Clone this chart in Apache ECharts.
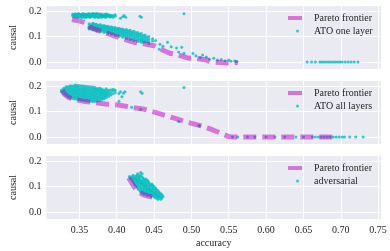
<!DOCTYPE html>
<html><head><meta charset="utf-8">
<script src="https://cdn.jsdelivr.net/npm/echarts@6/dist/echarts.min.js"></script>
<style>html,body{margin:0;padding:0;background:#fff}#c{width:390px;height:251px}</style>
</head><body><div id="c"></div>
<script>
const X_TICKS = [0.35, 0.40, 0.45, 0.50, 0.55, 0.60, 0.65, 0.70, 0.75];
const Y_TICKS = [0.0, 0.1, 0.2];
const SERIES_NAMES = ['ATO one layer', 'ATO all layers', 'adversarial'];
const FRONTIER_NAME = 'Pareto frontier';

// Pareto frontiers [accuracy, causal]
const frontierOneLayer = [[0.340,0.167],[0.350,0.161],[0.359,0.154],[0.364,0.137],[0.372,0.127],[0.382,0.118],[0.392,0.108],[0.402,0.098],[0.410,0.089],[0.424,0.077],[0.432,0.074],[0.450,0.064],[0.456,0.054],[0.471,0.035],[0.480,0.030],[0.497,0.015],[0.503,0.017],[0.520,0.008],[0.525,0.001],[0.545,-0.003],[0.562,-0.002]];
const frontierAllLayers = [[0.327,0.184],[0.330,0.168],[0.336,0.155],[0.345,0.147],[0.355,0.141],[0.370,0.135],[0.385,0.130],[0.402,0.126],[0.420,0.117],[0.437,0.109],[0.455,0.094],[0.476,0.075],[0.495,0.058],[0.512,0.045],[0.528,0.029],[0.550,0.002],[0.556,0.000],[0.692,0.000]];
const frontierAdversarial = [[0.416,0.135],[0.419,0.120],[0.422,0.105],[0.426,0.090],[0.430,0.078],[0.436,0.068],[0.443,0.062],[0.450,0.057],[0.455,0.054]];

// Scatter rows: [accuracy, causal values...]
const oneLayerRows = [
 [0.341,0.182,0.188],[0.3425,0.179,0.186],[0.344,0.178,0.184,0.190],[0.3455,0.181,0.187],[0.347,0.176,0.182,0.188],[0.3485,0.179,0.185,0.191],[0.350,0.177,0.183,0.189],
 [0.3515,0.180,0.186],[0.353,0.175,0.181,0.187],[0.3545,0.178,0.184,0.190],[0.356,0.178,0.184,0.190],[0.3575,0.175,0.181,0.187],[0.359,0.176,0.182,0.188],[0.3605,0.179,0.185],[0.362,0.179,0.185,0.191],
 [0.3635,0.176,0.182,0.188],[0.365,0.177,0.183,0.189],[0.3665,0.180,0.186],[0.368,0.180,0.186,0.192],[0.3695,0.177,0.183,0.189],[0.371,0.176,0.182,0.188],[0.3725,0.179,0.185,0.191],[0.374,0.178,0.184,0.190],
 [0.3755,0.175,0.181,0.187],[0.377,0.177,0.183,0.189],[0.3785,0.180,0.186],[0.380,0.176,0.182,0.188],[0.3815,0.179,0.185],[0.383,0.179,0.185],[0.3845,0.176,0.182,0.188],[0.386,0.177,0.183,0.189],
 [0.3875,0.180,0.186],[0.389,0.180,0.186],[0.3905,0.177,0.183],[0.392,0.178,0.184],[0.3935,0.181],[0.395,0.176,0.183],[0.398,0.180,0.186],
 [0.405,0.172],[0.408,0.178],[0.410,0.183],[0.412,0.176],[0.431,0.180],[0.433,0.176],[0.490,0.190],
 [0.363,0.150,0.143,0.136,0.130],[0.3655,0.147,0.140,0.133],[0.368,0.152,0.146,0.139,0.132,0.127],[0.3705,0.149,0.142,0.135,0.129],
 [0.373,0.148,0.142,0.135,0.128,0.122],[0.3755,0.145,0.138,0.131,0.125],[0.378,0.147,0.140,0.133,0.126,0.120],[0.3805,0.143,0.136,0.129,0.122],
 [0.383,0.144,0.137,0.130,0.123,0.116],[0.3855,0.141,0.134,0.126,0.119],[0.388,0.141,0.134,0.127,0.120,0.113],[0.3905,0.138,0.130,0.123,0.116],
 [0.393,0.139,0.132,0.125,0.117,0.109],[0.3955,0.135,0.128,0.120,0.112],[0.398,0.136,0.129,0.122,0.114,0.105],[0.4005,0.132,0.125,0.117,0.108],
 [0.403,0.133,0.126,0.118,0.110,0.101],[0.4055,0.130,0.122,0.114,0.105],[0.408,0.130,0.123,0.115,0.106,0.097],[0.4105,0.126,0.118,0.110,0.101],
 [0.413,0.128,0.120,0.112,0.103,0.093],[0.4155,0.123,0.115,0.106,0.097],[0.418,0.125,0.116,0.108,0.099,0.089],[0.4205,0.119,0.111,0.102,0.093],
 [0.423,0.121,0.113,0.104,0.095,0.085],[0.4255,0.115,0.107,0.098,0.089],[0.428,0.116,0.108,0.099,0.090,0.081],[0.4305,0.110,0.102,0.093,0.084],
 [0.433,0.112,0.103,0.094,0.085,0.078],[0.4355,0.104,0.095,0.086,0.079],[0.438,0.106,0.097,0.088,0.080],[0.4405,0.098,0.089,0.080],
 [0.443,0.100,0.090,0.081,0.073],[0.448,0.092,0.083],
 [0.452,0.085],[0.458,0.070],[0.462,0.062],[0.457,0.050],[0.468,0.078],[0.473,0.060],[0.480,0.055],[0.487,0.058],[0.483,0.040],
 [0.490,0.035],[0.502,0.034],[0.506,0.025],[0.515,0.028],[0.512,0.018],[0.520,0.020],[0.524,0.012],[0.530,0.015],[0.535,0.008],
 [0.540,0.010],[0.545,0.005],[0.550,0.008],[0.553,0.003],[0.558,0.004],[0.561,0.001],
 [0.655,0],[0.661,0],[0.666,0],[0.672,0],[0.675,0],[0.678,0],[0.681,0],[0.684,0],[0.687,0],[0.690,0],[0.693,0],[0.696,0],[0.699,0],[0.702,0],[0.706,0],[0.710,0],[0.714,0],[0.718,0],[0.723,0]
];
const allLayersRows = [
 [0.326,0.178,0.185],[0.329,0.170,0.178,0.186,0.192],[0.332,0.163,0.170,0.177,0.184,0.191,0.197],
 [0.335,0.157,0.164,0.171,0.178,0.185,0.192,0.198],[0.338,0.153,0.160,0.167,0.174,0.181,0.188,0.195,0.201],
 [0.341,0.151,0.158,0.165,0.172,0.179,0.186,0.193,0.200],[0.344,0.149,0.156,0.163,0.170,0.177,0.184,0.191,0.198,0.204],
 [0.347,0.148,0.155,0.162,0.169,0.176,0.183,0.190,0.197,0.203],[0.350,0.146,0.153,0.160,0.167,0.174,0.181,0.188,0.195,0.202],
 [0.353,0.145,0.152,0.159,0.166,0.173,0.180,0.187,0.194,0.201],[0.356,0.144,0.151,0.158,0.165,0.172,0.179,0.186,0.193,0.200],
 [0.359,0.143,0.150,0.157,0.164,0.171,0.178,0.185,0.192,0.199],[0.362,0.142,0.149,0.156,0.163,0.170,0.177,0.184,0.191,0.198],
 [0.365,0.141,0.148,0.155,0.162,0.169,0.176,0.183,0.190,0.197],[0.368,0.140,0.147,0.154,0.161,0.168,0.175,0.182,0.189,0.196],
 [0.371,0.140,0.147,0.154,0.161,0.168,0.175,0.182,0.189,0.195],[0.374,0.142,0.149,0.156,0.163,0.170,0.177,0.184,0.191],
 [0.377,0.144,0.151,0.158,0.165,0.172,0.179,0.186,0.193],[0.380,0.147,0.154,0.161,0.168,0.175,0.182,0.189],
 [0.383,0.150,0.157,0.164,0.171,0.178,0.185],[0.386,0.155,0.162,0.169,0.176,0.183,0.190],
 [0.389,0.160,0.168,0.176,0.184],[0.392,0.165,0.175,0.185],[0.395,0.170,0.182,0.188],[0.398,0.175,0.185],
 [0.403,0.171,0.141],[0.407,0.158],[0.405,0.178],[0.409,0.172],[0.411,0.178],[0.432,0.178],[0.434,0.172],[0.490,0.195],
 [0.420,0.117],[0.432,0.109],[0.483,0.061],[0.511,0.044],[0.510,0.046],
 [0.555,0],[0.562,0],[0.575,0],[0.585,0],[0.600,0],[0.612,0],[0.625,0],[0.640,0],[0.650,0],[0.662,0],[0.666,0],[0.670,0],
 [0.674,0],[0.678,0],[0.682,0],[0.686,0],[0.690,0],[0.694,0],[0.698,0],[0.702,0],[0.705,0],[0.712,0],[0.720,0],[0.730,0]
];
const adversarialRows = [
 [0.432,0.155],[0.428,0.150],[0.434,0.150],[0.422,0.145],[0.427,0.145],[0.431,0.145],
 [0.417,0.140],[0.421,0.140],[0.425,0.140],[0.429,0.140],[0.433,0.140],
 [0.418,0.135],[0.422,0.135],[0.426,0.135],[0.430,0.135],[0.435,0.135],
 [0.419,0.130],[0.423,0.130],[0.427,0.130],[0.431,0.130],[0.436,0.130],[0.439,0.130],
 [0.421,0.125],[0.425,0.125],[0.429,0.125],[0.433,0.125],[0.437,0.125],[0.441,0.125],
 [0.422,0.120],[0.426,0.120],[0.430,0.120],[0.434,0.120],[0.438,0.120],[0.442,0.120],
 [0.423,0.115],[0.427,0.115],[0.431,0.115],[0.435,0.115],[0.439,0.115],[0.443,0.115],
 [0.424,0.110],[0.428,0.110],[0.432,0.110],[0.436,0.110],[0.440,0.110],[0.444,0.110],[0.447,0.110],
 [0.425,0.105],[0.429,0.105],[0.433,0.105],[0.437,0.105],[0.441,0.105],[0.445,0.105],[0.448,0.105],
 [0.427,0.100],[0.431,0.100],[0.435,0.100],[0.439,0.100],[0.443,0.100],[0.447,0.100],[0.450,0.100],
 [0.428,0.095],[0.432,0.095],[0.436,0.095],[0.440,0.095],[0.444,0.095],[0.448,0.095],[0.452,0.095],
 [0.429,0.090],[0.433,0.090],[0.437,0.090],[0.441,0.090],[0.445,0.090],[0.449,0.090],[0.453,0.090],
 [0.431,0.085],[0.435,0.085],[0.439,0.085],[0.443,0.085],[0.447,0.085],[0.451,0.085],[0.455,0.085],
 [0.432,0.080],[0.436,0.080],[0.440,0.080],[0.444,0.080],[0.448,0.080],[0.452,0.080],[0.456,0.080],
 [0.434,0.075],[0.438,0.075],[0.442,0.075],[0.446,0.075],[0.450,0.075],[0.454,0.075],[0.458,0.075],
 [0.437,0.070],[0.441,0.070],[0.445,0.070],[0.449,0.070],[0.453,0.070],[0.457,0.070],[0.460,0.070],
 [0.441,0.065],[0.445,0.065],[0.449,0.065],[0.453,0.065],[0.457,0.065],[0.461,0.065],
 [0.446,0.060],[0.450,0.060],[0.454,0.060],[0.458,0.060],[0.462,0.060],
 [0.452,0.055],[0.456,0.055],[0.460,0.055],[0.455,0.050],[0.459,0.050],
 [0.424,0.132],[0.428,0.122],[0.433,0.112],[0.438,0.102],[0.442,0.092],[0.446,0.082],[0.451,0.072],[0.455,0.062]
];

function rowsToPoints(rows) {
  const pts = [];
  rows.forEach(r => { for (let i = 1; i < r.length; i++) pts.push([r[0], r[i]]); });
  return pts;
}

const scatterData = [rowsToPoints(oneLayerRows), rowsToPoints(allLayersRows), rowsToPoints(adversarialRows)];
const frontierData = [frontierOneLayer, frontierAllLayers, frontierAdversarial];

const FONT = 'Liberation Serif';
const TXT = '#262626';
const MAG = 'rgba(191,0,191,0.5)';
const CYAN = '#00BFBF';
const tops = [6, 81, 156];
const H = 63;

const grids = [], xAxes = [], yAxes = [], series = [], legends = [];
for (let i = 0; i < 3; i++) {
  const last = i === 2;
  grids.push({left: 36, right: 9, top: tops[i], height: H, show: true, backgroundColor: '#EAEAF2', borderWidth: 0});
  xAxes.push({
    type: 'value', gridIndex: i, min: 0.3058, max: 0.7539,
    axisLine: {show: false},
    axisTick: {show: false, customValues: X_TICKS},
    axisLabel: {show: last, customValues: X_TICKS, formatter: v => v.toFixed(2), fontFamily: FONT, fontSize: 10, color: TXT, margin: 6},
    splitLine: {show: true, lineStyle: {color: '#ffffff', width: 1}},
    name: last ? 'accuracy' : '', nameLocation: 'middle', nameGap: 19,
    nameTextStyle: {fontFamily: FONT, fontSize: 10, color: TXT}
  });
  yAxes.push({
    type: 'value', gridIndex: i, min: -0.027, max: 0.22,
    axisLine: {show: false},
    axisTick: {show: false, customValues: Y_TICKS},
    axisLabel: {customValues: Y_TICKS, formatter: v => v.toFixed(1), fontFamily: FONT, fontSize: 10, color: TXT, margin: 5},
    splitLine: {show: true, lineStyle: {color: '#ffffff', width: 1}},
    name: 'causal', nameLocation: 'middle', nameGap: 21,
    nameTextStyle: {fontFamily: FONT, fontSize: 10, color: TXT}
  });
  series.push({
    type: 'scatter', name: SERIES_NAMES[i], xAxisIndex: i, yAxisIndex: i,
    data: scatterData[i], symbol: 'circle', symbolSize: 3,
    itemStyle: {color: CYAN}, z: 2, silent: true
  });
  series.push({
    type: 'line', name: FRONTIER_NAME, xAxisIndex: i, yAxisIndex: i,
    data: frontierData[i], showSymbol: false, symbol: 'none',
    lineStyle: {color: '#BF00BF', opacity: 0.5, width: 5, type: [13, 6], cap: 'butt'},
    itemStyle: {color: MAG}, z: 3, silent: true
  });
  legends.push({
    left: 288, top: tops[i] + 7, padding: 0, itemWidth: 14, itemHeight: 4,
    selectedMode: false,
    data: [{name: FRONTIER_NAME, icon: 'rect', itemStyle: {color: MAG, borderWidth: 0}}],
    textStyle: {fontFamily: FONT, fontSize: 10, color: TXT, padding: [0, 0, 0, 7]}
  });
  legends.push({
    left: 296, top: tops[i] + 20, padding: 0, itemWidth: 3, itemHeight: 3,
    selectedMode: false,
    data: [{name: SERIES_NAMES[i], icon: 'circle', itemStyle: {color: CYAN, borderWidth: 0}}],
    textStyle: {fontFamily: FONT, fontSize: 10, color: TXT, padding: [0, 0, 0, 10]}
  });
}

const chart = echarts.init(document.getElementById('c'), null, {renderer: 'canvas'});
chart.setOption({
  animation: false,
  grid: grids, xAxis: xAxes, yAxis: yAxes, series: series, legend: legends
});
</script></body></html>
